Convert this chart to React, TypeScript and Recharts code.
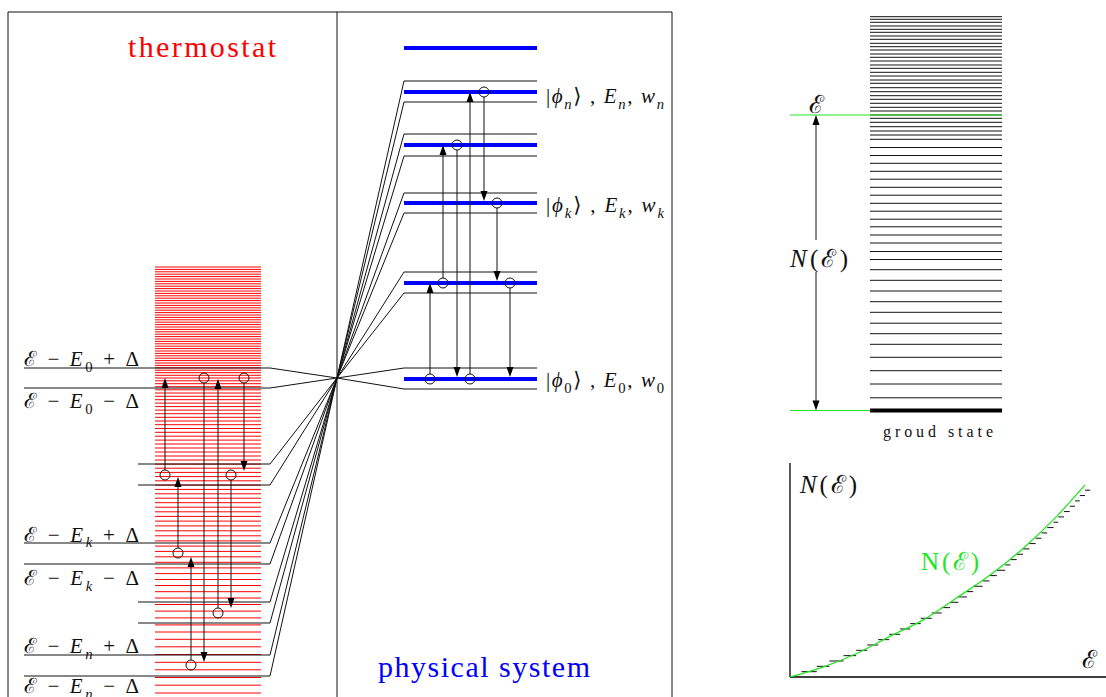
import React from "react";
import {
  ComposedChart,
  LineChart,
  Line,
  Scatter,
  XAxis,
  YAxis,
  ReferenceLine,
  ReferenceDot,
} from "recharts";

const SERIF = '"Liberation Serif", "DejaVu Serif", serif';
const RED = "#ff0000";
const BLUE = "#0000ff";
const GREEN = "#22e622";
const INK = "#111";

// ---------- left figure (energy axis: 0 at the bottom edge) ----------
// thermostat levels, dense at the top
const bathLevels = [
  430, 427.6, 425.2, 422.8, 420.4, 418, 415.6, 413.2, 410.8, 408.4, 406, 403.6,
  401.2, 398.8, 396.4, 394, 391.6, 389.2, 386.8, 384.4, 382, 379.6, 377.2,
  374.8, 372.4, 370, 367.6, 365.2, 362.8, 360.4, 358, 355.6, 353.2, 350.8,
  348.4, 346, 343.6, 341.2, 338.8, 336.4, 334, 331.6, 329.2, 326.8, 324.3,
  321.7, 319, 316.2, 313.3, 310.3, 307.2, 304, 300.7, 297.3, 293.9, 290.4,
  286.9, 283.3, 279.7, 276, 272.3, 268.5, 264.7, 260.8, 256.9, 253, 249, 245,
  241, 237, 232.9, 228.8, 224.6, 220.4, 216.2, 211.9, 207.6, 203.2, 198.8,
  194.3, 189.8, 185.2, 180.6, 175.9, 171.1, 166.2, 161.2, 156.1, 150.9, 145.6,
  140.2, 134.7, 129.1, 123.4, 117.5, 111.5, 105.3, 99, 92.5, 85.9, 79.1, 72.1,
  65, 57.7, 50.2, 42.5, 34.7, 27.2, 19.5, 11.8, 4,
];

// energy windows E - E_i ± Δ on the thermostat side
const bathWindows = [329, 309, 233, 212, 154, 133, 95, 74, 42, 21];
const bathWindowLabeled = [true, true, false, false, true, true, false, false, true, true];
const bathLabelSub = ["0", "0", "k", "k", "n", "n"];
const bathLabelSign = ["+", "−", "+", "−", "+", "−"];
const bathLabelBase = [331, 289, 155.5, 112, 44, 4];

// physical system levels and their windows E_i ± Δ
const systemLevels = [649, 605, 552, 494, 414, 318];
const systemWindows = [616, 595, 563, 541, 504, 484, 425, 404, 329, 308];
const systemLabelSub = ["n", "k", "0"];
const systemLabelBase = [594, 485, 310];

// transitions: column, start level (circle), end level (arrow)
const bathJumps = [
  { x: 165, from: 222, to: 319 },
  { x: 178, from: 144, to: 220 },
  { x: 191, from: 32, to: 140 },
  { x: 204, from: 319, to: 35 },
  { x: 218, from: 84, to: 318 },
  { x: 231, from: 222, to: 89 },
  { x: 244, from: 319, to: 226 },
];
const systemJumps = [
  { x: 430, from: 318, to: 414 },
  { x: 443, from: 414, to: 552 },
  { x: 457, from: 552, to: 320 },
  { x: 470, from: 318, to: 605 },
  { x: 484, from: 605, to: 496 },
  { x: 497, from: 494, to: 416 },
  { x: 510, from: 414, to: 320 },
];

// ---------- right: level ladder ----------
const ladderLevels = [
  680.3, 677.7, 674.7, 671, 667.7, 664.7, 661, 657.7, 653.7, 650.3, 647, 643,
  639.7, 636, 632, 628.7, 624.7, 621, 617, 613.7, 609.3, 605.3, 601.3, 597.7,
  593.7, 589.7, 586, 582, 578.7, 574.7, 570.3, 566, 562, 557.7, 549.5, 541.5,
  533.7, 525.7, 517.8, 509.7, 501.8, 493.7, 485.8, 477.8, 470.2, 462, 454,
  445.5, 437.5, 427.3, 416.7, 406, 395.3, 384.7, 373.8, 363.3, 352.7, 339.7,
  326.3, 313, 299.2,
];
const groundLevel = 286.5;
const windowEnergy = 582;

// ---------- counting function N(E) ----------
const countE = [0, 0.64, 1.27, 1.9, 2.54, 3.17, 3.81, 4.44, 5.08, 5.62];
const countN = [0, 1.9, 4.4, 7.6, 10.7, 14.8, 19.1, 24.1, 30.1, 36];
const stepE = [
  0.22, 0.51, 0.75, 1.02, 1.26, 1.47, 1.68, 1.89, 2.1, 2.29, 2.49, 2.7, 2.89,
  3.05, 3.21, 3.37, 3.49, 3.67, 3.8, 3.94, 4.1, 4.2, 4.32, 4.44, 4.56, 4.68,
  4.79, 4.9, 5.02, 5.11, 5.22, 5.33, 5.43, 5.52, 5.62, 5.72,
];
const eMax = 6.02;
const nMax = 40.1;

const curveData = countE.map((e, i) => ({ e, n: countN[i] }));
const stairData = stepE.slice(0, -1).flatMap((e, i) => [
  { e, n: i + 1 },
  { e: stepE[i + 1], n: i + 1 },
  { e: stepE[i + 1], n: null },
]);

const hub = { x: 337, e: 319 };
const countArrowX = 816;

type Run = { t: string; i?: boolean; s?: boolean };

function runs(list: Run[], size: number) {
  let shifted = false;
  return list.map((r, k) => {
    let dy: number | undefined;
    if (r.s && !shifted) {
      dy = size * 0.28;
      shifted = true;
    } else if (!r.s && shifted) {
      dy = -size * 0.28;
      shifted = false;
    }
    return (
      <tspan
        key={k}
        dy={dy}
        fontSize={r.s ? size * 0.7 : size}
        fontStyle={r.i ? "italic" : "normal"}
      >
        {r.t}
      </tspan>
    );
  });
}

function label(
  list: Run[],
  size: number,
  opts: { anchor?: string; fill?: string; width?: number } = {}
) {
  return (p: any) => (
    <text
      x={p.cx}
      y={p.cy}
      fontFamily={SERIF}
      fontSize={size}
      fill={opts.fill ?? INK}
      textAnchor={opts.anchor ?? "start"}
      textLength={opts.width}
      lengthAdjust="spacing"
      style={{ whiteSpace: "pre" }}
    >
      {runs(list, size)}
    </text>
  );
}

const allJumps = [...bathJumps, ...systemJumps];
const circleData = allJumps.map((j) => ({ x: j.x, e: j.from }));
const headData = [
  ...allJumps.map((j) => ({ x: j.x, e: j.to, up: j.to > j.from })),
  { x: countArrowX, e: windowEnergy, up: true },
  { x: countArrowX, e: groundLevel, up: false },
];

const seg = (x1: number, y1: number, x2: number, y2: number) => [
  { x: x1, y: y1 },
  { x: x2, y: y2 },
];

export default function App() {
  return (
    <div
      style={{
        position: "absolute",
        left: 0,
        top: 0,
        width: 1106,
        height: 697,
        background: "#fff",
        overflow: "hidden",
      }}
    >
      <div style={{ position: "absolute", left: 0, top: 0 }}>
        <ComposedChart
          width={1106}
          height={697}
          margin={{ top: 0, right: 0, bottom: 0, left: 0 }}
        >
          <XAxis type="number" dataKey="x" domain={[0, 1106]} allowDataOverflow hide />
          <YAxis type="number" dataKey="e" domain={[0, 697]} allowDataOverflow hide />

          {/* frame */}
          <ReferenceLine segment={seg(8, 0, 8, 685)} stroke={INK} ifOverflow="visible" />
          <ReferenceLine segment={seg(672, 0, 672, 685)} stroke={INK} ifOverflow="visible" />
          <ReferenceLine segment={seg(8, 685, 672, 685)} stroke={INK} ifOverflow="visible" />
          <ReferenceLine segment={seg(337, 0, 337, 685)} stroke={INK} ifOverflow="visible" />

          {/* thermostat spectrum */}
          {bathLevels.map((e, i) => (
            <ReferenceLine key={`b${i}`} segment={seg(155, e, 261, e)} stroke={RED} strokeWidth={1} ifOverflow="visible" />
          ))}

          {/* thermostat windows */}
          {bathWindows.map((e, i) => (
            <ReferenceLine
              key={`bw${i}`}
              segment={seg(bathWindowLabeled[i] ? 24 : 138, e, 270, e)}
              stroke={INK}
              ifOverflow="visible"
            />
          ))}
          {bathWindows.map((e, i) => (
            <ReferenceLine key={`bd${i}`} segment={seg(270, e, hub.x, hub.e)} stroke={INK} ifOverflow="visible" />
          ))}

          {/* system windows */}
          {systemWindows.map((e, i) => (
            <ReferenceLine key={`sd${i}`} segment={seg(hub.x, hub.e, 404, e)} stroke={INK} ifOverflow="visible" />
          ))}
          {systemWindows.map((e, i) => (
            <ReferenceLine key={`sw${i}`} segment={seg(404, e, 537, e)} stroke={INK} ifOverflow="visible" />
          ))}

          {/* system levels */}
          {systemLevels.map((e, i) => (
            <ReferenceLine key={`sl${i}`} segment={seg(404, e, 537, e)} stroke={BLUE} strokeWidth={4} ifOverflow="visible" />
          ))}

          {/* ladder */}
          {ladderLevels.map((e, i) => (
            <ReferenceLine key={`ll${i}`} segment={seg(870, e, 1002, e)} stroke={INK} strokeWidth={1} ifOverflow="visible" />
          ))}
          <ReferenceLine segment={seg(870, groundLevel, 1002, groundLevel)} stroke="#000" strokeWidth={4} ifOverflow="visible" />
          <ReferenceLine segment={seg(790, windowEnergy, 1002, windowEnergy)} stroke={GREEN} ifOverflow="visible" />
          <ReferenceLine segment={seg(790, groundLevel, 870, groundLevel)} stroke={GREEN} ifOverflow="visible" />
          <ReferenceLine segment={seg(countArrowX, windowEnergy - 8, countArrowX, 457)} stroke={INK} ifOverflow="visible" />
          <ReferenceLine segment={seg(countArrowX, 425, countArrowX, groundLevel + 8)} stroke={INK} ifOverflow="visible" />

          {/* transition shafts */}
          {allJumps.map((j, i) => {
            const d = j.to > j.from ? 1 : -1;
            return (
              <ReferenceLine
                key={`j${i}`}
                segment={seg(j.x, j.from + 5 * d, j.x, j.to - 8 * d)}
                stroke={INK}
                ifOverflow="visible"
              />
            );
          })}

          <Scatter
            data={circleData}
            isAnimationActive={false}
            shape={(p: any) => (
              <circle cx={p.cx} cy={p.cy} r={5} fill="none" stroke={INK} strokeWidth={1} />
            )}
          />
          <Scatter
            data={headData}
            isAnimationActive={false}
            shape={(p: any) => {
              const s = p.payload.up ? 1 : -1;
              return (
                <polygon
                  points={`${p.cx},${p.cy} ${p.cx - 3.5},${p.cy + 10 * s} ${p.cx + 3.5},${p.cy + 10 * s}`}
                  fill="#000"
                />
              );
            }}
          />

          {/* texts */}
          <ReferenceDot x={202} y={640} ifOverflow="visible" shape={label([{ t: "thermostat" }], 30, { anchor: "middle", fill: RED, width: 148 })} />
          <ReferenceDot x={484} y={20} ifOverflow="visible" shape={label([{ t: "physical system" }], 30, { anchor: "middle", fill: BLUE, width: 212 })} />

          {bathLabelBase.map((e, i) => (
            <ReferenceDot
              key={`bl${i}`}
              x={24}
              y={e}
              ifOverflow="visible"
              shape={label(
                [
                  { t: "ℰ" },
                  { t: " − " },
                  { t: "E", i: true },
                  { t: bathLabelSub[i], s: true, i: bathLabelSub[i] !== "0" },
                  { t: ` ${bathLabelSign[i]} ` },
                  { t: "Δ" },
                ],
                21,
                { width: 115 }
              )}
            />
          ))}

          {systemLabelBase.map((e, i) => {
            const sub = systemLabelSub[i];
            const it = sub !== "0";
            return (
              <ReferenceDot
                key={`sl${i}`}
                x={546}
                y={e}
                ifOverflow="visible"
                shape={label(
                  [
                    { t: "|" },
                    { t: "ϕ", i: true },
                    { t: sub, s: true, i: it },
                    { t: "⟩ , " },
                    { t: "E", i: true },
                    { t: sub, s: true, i: it },
                    { t: ", " },
                    { t: "w", i: true },
                    { t: sub, s: true, i: it },
                  ],
                  21,
                  { width: 118 }
                )}
              />
            );
          })}

          <ReferenceDot x={816} y={584} ifOverflow="visible" shape={label([{ t: "ℰ" }], 25, { anchor: "middle" })} />
          <ReferenceDot
            x={819}
            y={430}
            ifOverflow="visible"
            shape={label([{ t: "N", i: true }, { t: "(" }, { t: "ℰ" }, { t: ")" }], 25, { anchor: "middle", width: 58 })}
          />
          <ReferenceDot x={938} y={260} ifOverflow="visible" shape={label([{ t: "groud state" }], 16, { anchor: "middle", width: 110 })} />
        </ComposedChart>
      </div>

      <div style={{ position: "absolute", left: 789, top: 463 }}>
        <LineChart width={317} height={216} margin={{ top: 0, right: 0, bottom: 2, left: 1 }}>
          <XAxis type="number" dataKey="e" domain={[0, eMax]} allowDataOverflow hide />
          <YAxis type="number" domain={[0, nMax]} allowDataOverflow hide />
          {/* axes */}
          <ReferenceLine segment={[{ x: 0, y: 0 }, { x: eMax, y: 0 }]} stroke="#000" strokeWidth={1.3} ifOverflow="visible" />
          <ReferenceLine segment={[{ x: 0, y: 0 }, { x: 0, y: nMax }]} stroke="#000" strokeWidth={1.3} ifOverflow="visible" />
          <Line
            data={stairData}
            dataKey="n"
            type="linear"
            stroke={INK}
            strokeWidth={1}
            dot={false}
            connectNulls={false}
            isAnimationActive={false}
          />
          <Line
            data={curveData}
            dataKey="n"
            type="monotone"
            stroke={GREEN}
            strokeWidth={1.3}
            dot={false}
            isAnimationActive={false}
          />
          <ReferenceDot
            x={0.19}
            y={34.5}
            ifOverflow="visible"
            shape={label([{ t: "N", i: true }, { t: "(" }, { t: "ℰ" }, { t: ")" }], 25, { width: 57 })}
          />
          <ReferenceDot x={5.7} y={1.7} ifOverflow="visible" shape={label([{ t: "ℰ" }], 25, { anchor: "middle" })} />
          <ReferenceDot
            x={3.05}
            y={20.1}
            ifOverflow="visible"
            shape={label([{ t: "N" }, { t: "(" }, { t: "ℰ" }, { t: ")" }], 25, { anchor: "middle", fill: GREEN, width: 58 })}
          />
        </LineChart>
      </div>
    </div>
  );
}
